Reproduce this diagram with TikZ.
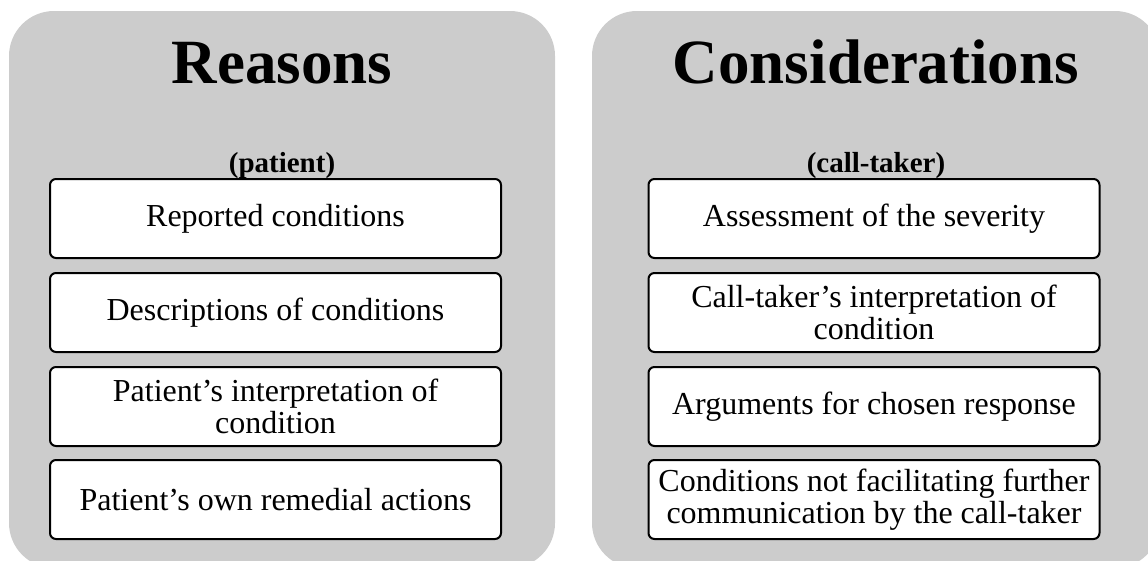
\documentclass[tikz,border=0pt]{standalone}
\usepackage{fontspec}
\setmainfont{Liberation Serif}
\usepackage{xcolor}
\definecolor{panelbg}{HTML}{CCCCCC}
\definecolor{itembg}{HTML}{FFFFFF}
\definecolor{ink}{HTML}{000000}
\tikzset{
  panel/.style={fill=panelbg, draw=none, rounded corners=45pt},
  item/.style={draw=ink, fill=itembg, line width=2pt, rounded corners=6pt,
    minimum width=451pt, minimum height=79pt, inner sep=0pt, align=center,
    text=ink, font=\fontsize{32}{32.5}\selectfont},
  head/.style={anchor=base, text=ink, font=\fontsize{63}{70}\selectfont\bfseries},
  sub/.style={anchor=base, text=ink, font=\fontsize{29}{33}\selectfont\bfseries},
}

\begin{document}
\begin{tikzpicture}[x=1pt, y=-1pt]
  \useasboundingbox (0,0) rectangle (1148,560);
  % two grey panels
  \fill[panel] (9,11) rectangle (555,568);
  \fill[panel] (592,11) rectangle (1160,568);
  % left: patient
  \node[head] (reasons) at (282,83) {Reasons};
  \node[sub] (patient) at (282,172) {(patient)};
  \node[item] (reported) at (275.5,218.5) {Reported conditions};
  \node[item] (descr) at (275.5,312.5) {Descriptions of conditions};
  \node[item] (pinterp) at (275.5,406.5) {Patient’s interpretation of\\condition};
  \node[item] (remedial) at (275.5,499.5) {Patient’s own remedial actions};
  % right: call-taker
  \node[head] (consid) at (876,83) {Considerations};
  \node[sub] (caller) at (876,172) {(call-taker)};
  \node[item] (severity) at (874,218.5) {Assessment of the severity};
  \node[item] (cinterp) at (874,312.5) {Call-taker’s interpretation of\\condition};
  \node[item] (args) at (874,406.5) {Arguments for chosen response};
  \node[item] (nofacil) at (874,499.5) {Conditions not facilitating further\\communication by the call-taker};
\end{tikzpicture}
\end{document}
